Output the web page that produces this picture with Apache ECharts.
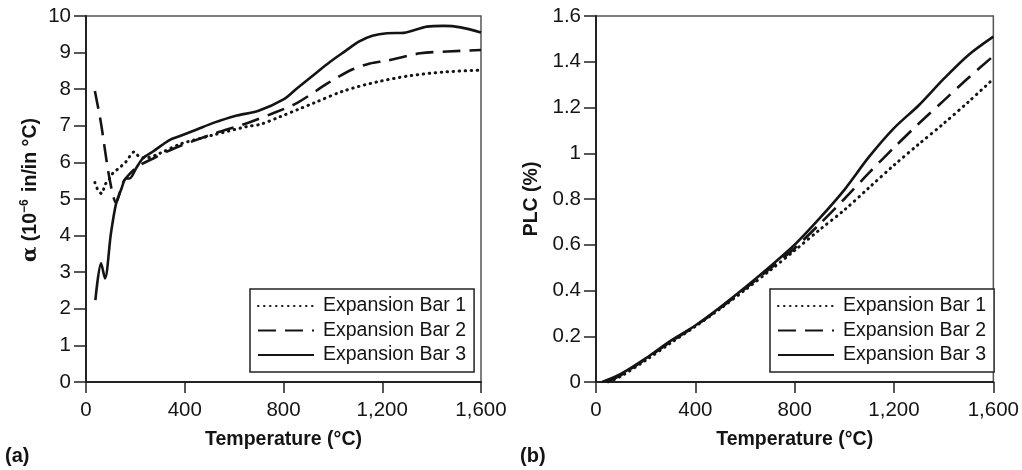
<!DOCTYPE html>
<html>
<head>
<meta charset="utf-8">
<script src="https://cdn.jsdelivr.net/npm/echarts@6/dist/echarts.min.js"></script>
<style>
  html, body { margin: 0; padding: 0; background: #fff; }
  #chart { width: 1022px; height: 470px; }
</style>
</head>
<body>
<div id="chart"></div>
<script>
const FONT = '"Liberation Sans", Arial, sans-serif';
const INK = '#141414';

const seriesNames = ['Expansion Bar 1', 'Expansion Bar 2', 'Expansion Bar 3'];
const tempTicks = [0, 400, 800, 1200, 1600];
const alphaTicks = [0, 1, 2, 3, 4, 5, 6, 7, 8, 9, 10];
const plcTicks = [0, 0.2, 0.4, 0.6, 0.8, 1, 1.2, 1.4, 1.6];

// (a) coefficient of thermal expansion, [temperature °C, alpha 10^-6 in/in °C]
const alphaBar1 = [[36,5.45],[50,5.22],[63,5.15],[78,5.4],[95,5.55],[108,5.7],[135,5.85],[162,6.02],[196,6.29],[212,6.18],[240,6.12],[300,6.25],[381,6.5],[487,6.7],[516,6.75],[652,6.98],[706,7.04],[787,7.25],[860,7.45],[922,7.62],[1043,7.95],[1179,8.2],[1314,8.37],[1449,8.47],[1600,8.52]];
const alphaBar2 = [[36,7.95],[60,7.1],[95,5.57],[122,4.9],[150,5.45],[182,5.72],[216,5.92],[270,6.1],[330,6.3],[381,6.45],[516,6.78],[652,7.07],[760,7.35],[854,7.62],[976,8.15],[1023,8.34],[1083,8.55],[1150,8.7],[1219,8.78],[1354,8.98],[1463,9.03],[1600,9.07]];
const alphaBar3 = [[38,2.24],[61,3.24],[77,2.83],[101,4.06],[122,4.88],[142,5.25],[162,5.56],[176,5.56],[203,5.84],[230,6.11],[270,6.29],[338,6.61],[381,6.72],[449,6.9],[516,7.08],[604,7.27],[699,7.41],[800,7.72],[854,8.02],[922,8.39],[989,8.75],[1050,9.04],[1105,9.3],[1160,9.46],[1219,9.53],[1287,9.54],[1381,9.71],[1449,9.73],[1517,9.69],[1600,9.55]];

// (b) permanent linear change, [temperature °C, PLC %]
const plcBar1 = [[50,0],[100,0.025],[200,0.095],[300,0.17],[400,0.243],[500,0.32],[600,0.402],[700,0.487],[800,0.575],[900,0.665],[1000,0.752],[1100,0.85],[1200,0.948],[1300,1.04],[1400,1.13],[1500,1.225],[1600,1.325]];
const plcBar2 = [[45,0],[100,0.03],[200,0.1],[300,0.175],[400,0.245],[500,0.323],[600,0.408],[700,0.495],[800,0.585],[900,0.69],[1000,0.8],[1100,0.915],[1200,1.025],[1300,1.13],[1400,1.23],[1500,1.33],[1600,1.425]];
const plcBar3 = [[25,0],[100,0.035],[200,0.103],[300,0.18],[400,0.247],[500,0.327],[600,0.413],[700,0.504],[800,0.6],[900,0.715],[1000,0.84],[1100,0.985],[1200,1.11],[1300,1.21],[1400,1.325],[1500,1.43],[1600,1.51]];

const lineStyles = [
  { type: [0.5, 5.5], cap: 'round', width: 3, color: INK },
  { type: [18, 9], width: 2.6, color: INK },
  { type: 'solid', width: 2.6, color: INK }
];

const labelStyle = { fontFamily: FONT, fontSize: 20.5, color: INK };
const nameStyle = { fontFamily: FONT, fontSize: 19.5, fontWeight: 'bold', color: INK };

function tempAxis(gridIndex) {
  return {
    type: 'value', gridIndex,
    min: tempTicks[0], max: tempTicks[tempTicks.length - 1],
    interval: tempTicks[1] - tempTicks[0],
    name: 'Temperature (°C)', nameLocation: 'middle', nameGap: 48,
    nameTextStyle: nameStyle,
    axisLine: { show: true, onZero: false, lineStyle: { color: '#222', width: 2 } },
    axisTick: { show: true, inside: false, length: 11, lineStyle: { color: '#222', width: 1.5 } },
    axisLabel: Object.assign({ margin: 18, formatter: v => v.toLocaleString('en-US') }, labelStyle),
    splitLine: { show: false }
  };
}

function valueAxis(gridIndex, ticks, name, nameGap, namePad, rich) {
  return {
    type: 'value', gridIndex,
    min: ticks[0], max: ticks[ticks.length - 1],
    interval: +(ticks[1] - ticks[0]).toFixed(3),
    name, nameLocation: 'middle', nameGap, nameRotate: 90,
    nameTextStyle: Object.assign({ padding: namePad, rich }, nameStyle),
    axisLine: { show: true, onZero: false, lineStyle: { color: '#222', width: 2 } },
    axisTick: { show: true, inside: false, length: 12, lineStyle: { color: '#222', width: 1.5 } },
    axisLabel: Object.assign({ margin: 15, formatter: v => String(Number(v.toFixed(2))) }, labelStyle),
    splitLine: { show: false }
  };
}

function makeSeries(data, i, axisIndex) {
  return {
    name: seriesNames[i], type: 'line', data,
    xAxisIndex: axisIndex, yAxisIndex: axisIndex,
    symbol: 'none', showSymbol: false,
    smooth: 0.3,
    lineStyle: lineStyles[i], itemStyle: { color: INK },
    emphasis: { disabled: true }, animation: false
  };
}

function legendBox(left) {
  return {
    left, top: 289, orient: 'vertical',
    itemWidth: 56, itemHeight: 14, itemGap: 2.5,
    padding: [6, 8, 6, 7],
    borderColor: '#222', borderWidth: 1.5, borderRadius: 0,
    backgroundColor: '#fff',
    selectedMode: false,
    itemStyle: { opacity: 0, color: 'transparent', borderWidth: 0 },
    textStyle: { fontFamily: FONT, color: INK, fontSize: 19.5, lineHeight: 22, padding: [0, 0, 0, 4] },
    data: seriesNames
  };
}

const alphaName = '{g|α} {b|(10}{s|−6}{b| in/in °C)}';
const alphaRich = {
  g: { fontFamily: '"DejaVu Serif", serif', fontSize: 20, color: INK, lineHeight: 24 },
  b: { fontFamily: FONT, fontSize: 19.5, fontWeight: 'bold', color: INK, lineHeight: 24 },
  s: { fontFamily: FONT, fontSize: 12, fontWeight: 'bold', color: INK, lineHeight: 24, verticalAlign: 'top', padding: [0, 2, 9, 0] }
};

const chart = echarts.init(document.getElementById('chart'), null, { renderer: 'canvas' });
chart.setOption({
  backgroundColor: '#fff',
  animation: false,
  grid: [
    { left: 86, top: 16, width: 395, height: 366, show: true, borderColor: '#555', borderWidth: 1.5, backgroundColor: 'transparent' },
    { left: 596, top: 16, width: 403, height: 366, show: true, borderColor: '#555', borderWidth: 1.5, backgroundColor: 'transparent' }
  ],
  xAxis: [tempAxis(0), tempAxis(1)],
  yAxis: [
    valueAxis(0, alphaTicks, alphaName, 43, [0, 0, 0, 18], alphaRich),
    valueAxis(1, plcTicks, 'PLC (%)', 54, 0, undefined)
  ],
  legend: [legendBox(250), legendBox(770)],
  series: [
    makeSeries(alphaBar1, 0, 0),
    makeSeries(alphaBar2, 1, 0),
    makeSeries(alphaBar3, 2, 0),
    makeSeries(plcBar1, 0, 1),
    makeSeries(plcBar2, 1, 1),
    makeSeries(plcBar3, 2, 1)
  ],
  graphic: [
    { type: 'text', left: 5, top: 446, style: { text: '(a)', font: 'bold 20px ' + FONT, fill: INK } },
    { type: 'text', left: 520, top: 446, style: { text: '(b)', font: 'bold 20px ' + FONT, fill: INK } }
  ]
});
</script>
</body>
</html>
